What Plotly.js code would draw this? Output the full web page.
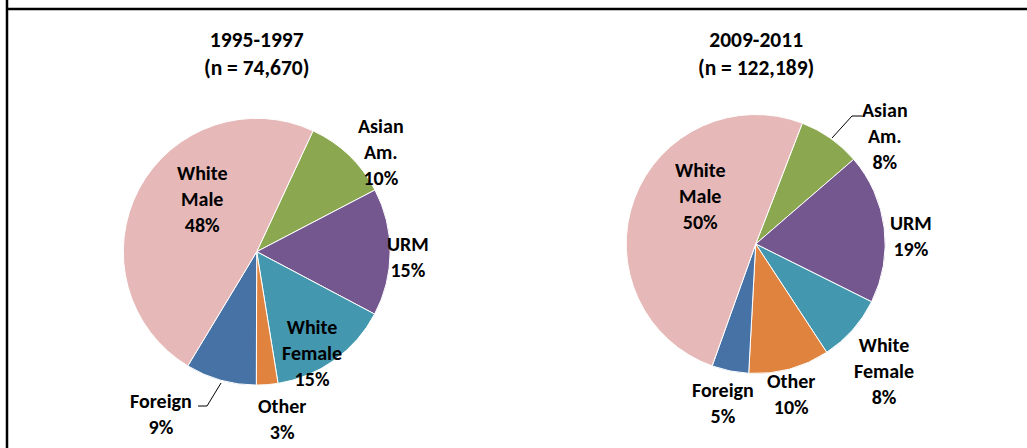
<!DOCTYPE html>
<html>
<head>
<meta charset="utf-8">
<script src="https://cdn.plot.ly/plotly-3.0.1.min.js"></script>
<style>
html,body{margin:0;padding:0;background:#fff;}
#chart{width:1027px;height:448px;}
</style>
</head>
<body>
<div id="chart"></div>
<script>
// ---- data ----
const categories = ['Asian Am.', 'URM', 'White Female', 'Other', 'Foreign', 'White Male'];
const values1995 = [10.4, 15.4, 14.7, 2.6, 8.6, 48.3];
const values2009 = [7.8, 18.7, 8.4, 10.1, 4.6, 50.4];
const title1995 = '1995-1997';
const n1995 = '74,670';
const title2009 = '2009-2011';
const n2009 = '122,189';
const sliceColors = ['#8BA74F', '#73578E', '#4398B0', '#E0833E', '#4672A6', '#E6B9B8'];

// ---- layout helpers ----
const W = 1027, H = 448;
const px = x => x / W;
const py = y => 1 - y / H;
const FAMILY = 'Carlito, Lato, "Liberation Sans", sans-serif';
const FONT = {family: FAMILY, size: 20, color: '#000'};
const TFONT = {family: FAMILY, size: 21.5, color: '#000'};

function pieTrace(vals, cx, cy, r, rot) {
  return {
    type: 'pie',
    values: vals,
    labels: categories,
    sort: false,
    direction: 'clockwise',
    rotation: rot,
    textinfo: 'none',
    hoverinfo: 'label+percent',
    marker: {colors: sliceColors, line: {color: '#ffffff', width: 1}},
    domain: {x: [px(cx - r), px(cx + r)], y: [py(cy + r), py(cy - r)]},
    showlegend: false
  };
}

function pct(vals, i) {
  const s = vals.reduce((a, b) => a + b, 0);
  return Math.round(vals[i] / s * 100) + '%';
}
function lbl(i) { return categories[i].replace(' ', '<br>'); }

// label placements (pixel centres) per slice index
const pos1995 = [[381, 152], [408, 257], [312, 353], [282, 419], [161, 414], [202, 199]];
const pos2009 = [[885, 136], [911, 236], [884, 371], [791, 394], [723, 403], [700, 196]];

const annotations = [];
function addLabels(vals, pos) {
  vals.forEach((v, i) => {
    annotations.push({
      xref: 'paper', yref: 'paper', x: px(pos[i][0]), y: py(pos[i][1]),
      xanchor: 'center', yanchor: 'middle', showarrow: false,
      text: '<b>' + lbl(i) + '<br>' + pct(vals, i) + '</b>', font: FONT
    });
  });
}
addLabels(values1995, pos1995);
addLabels(values2009, pos2009);

annotations.push({xref: 'paper', yref: 'paper', x: px(256), y: py(54), xanchor: 'center', yanchor: 'middle',
  showarrow: false, text: '<b>' + title1995 + '<br>(n = ' + n1995 + ')</b>', font: TFONT});
annotations.push({xref: 'paper', yref: 'paper', x: px(756), y: py(54), xanchor: 'center', yanchor: 'middle',
  showarrow: false, text: '<b>' + title2009 + '<br>(n = ' + n2009 + ')</b>', font: TFONT});

function path(pts) {
  return 'M ' + pts.map(p => px(p[0]) + ',' + py(p[1])).join(' L ');
}
const shapes = [
  // frame
  {type: 'line', xref: 'paper', yref: 'paper', x0: px(7), x1: px(7), y0: 0, y1: 1, line: {color: '#000', width: 2.5}},
  {type: 'line', xref: 'paper', yref: 'paper', x0: px(7), x1: 1, y0: py(9), y1: py(9), line: {color: '#000', width: 2.5}},
  // leader lines
  {type: 'path', xref: 'paper', yref: 'paper', path: path([[198, 406], [207, 406], [221, 383]]), line: {color: '#000', width: 1}},
  {type: 'path', xref: 'paper', yref: 'paper', path: path([[862, 116], [852, 116], [832, 138]]), line: {color: '#000', width: 1}}
];

const data = [
  pieTrace(values1995, 256.7, 251.7, 133.4, 25),
  pieTrace(values2009, 755.7, 244, 129.5, 21.1)
];

const layout = {
  width: W, height: H,
  margin: {l: 0, r: 0, t: 0, b: 0},
  paper_bgcolor: '#ffffff',
  plot_bgcolor: '#ffffff',
  annotations: annotations,
  shapes: shapes,
  showlegend: false
};

Plotly.newPlot('chart', data, layout, {displayModeBar: false, staticPlot: true});
</script>
</body>
</html>
